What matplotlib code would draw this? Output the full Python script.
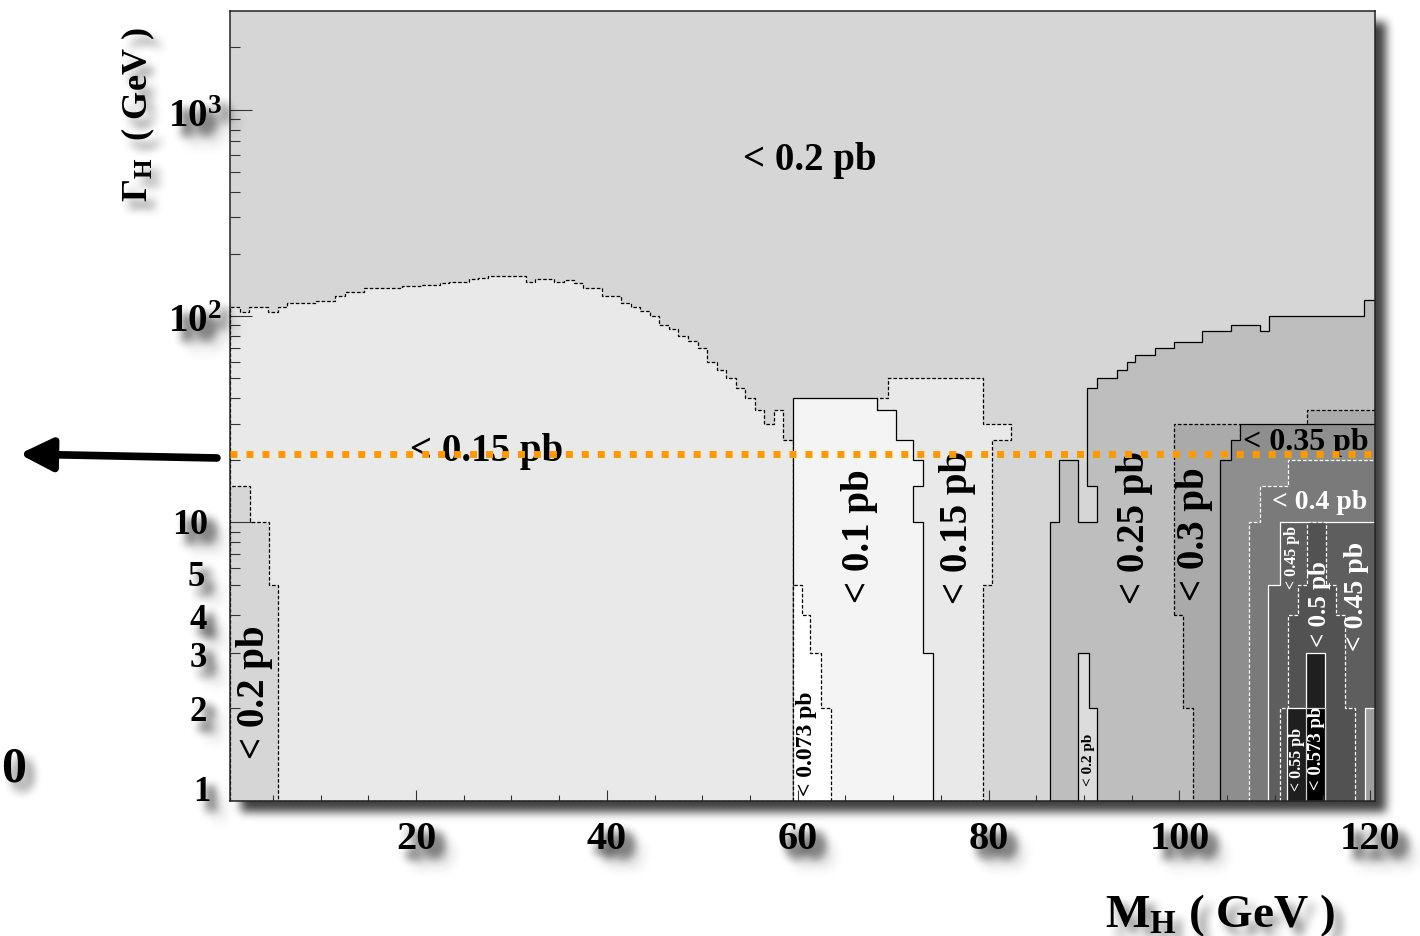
import numpy as np
import matplotlib
matplotlib.use("Agg")
import matplotlib.pyplot as plt
from matplotlib.patches import Polygon, Rectangle

plt.rcParams["font.family"] = ["Liberation Serif", "DejaVu Serif"]
plt.rcParams["font.weight"] = "bold"
plt.rcParams["mathtext.fontset"] = "custom"
plt.rcParams["mathtext.rm"] = "Liberation Serif:bold"
plt.rcParams["mathtext.it"] = "Liberation Serif:bold"
plt.rcParams["mathtext.bf"] = "Liberation Serif:bold"
plt.rcParams["lines.scale_dashes"] = False

# ------------------------------------------------------------------ data
GAMMA_MIN, GAMMA_MAX = 1.0, 3000.0      # Higgs width range (GeV)
MASS_MIN, MASS_MAX = 0.5, 120.5         # Higgs mass range (GeV)

# < 0.15 pb region: 1 GeV mass bins and the largest excluded width in each bin
bins_015 = np.arange(0.5, 60.0, 1.0)
top_015 = [110, 104, 110, 110, 104, 110, 116, 116, 116, 118, 118, 125, 131, 131,
           137, 137, 137, 137, 140, 140, 141, 141, 144, 146, 146, 151, 153, 156,
           156, 156, 156, 146, 151, 151, 146, 149, 144, 137, 137, 125, 125, 116,
           110, 106, 100, 90, 86, 80, 76, 70, 60, 55, 50, 45, 40, 35, 30, 35, 25]

# Remaining contours as rectilinear outlines: a vertical edge at x[i] runs
# from y[i] to y[i+1], then a horizontal edge at y[i+1] runs to x[i+1].
strip_02_x = [0.5, 2.6, 4.6, 5.5]
strip_02_y = [1, 15, 10, 5, 1]
mid_015_x = [68.3, 69.5, 79.4, 82.4, 80.4, 79.4]
mid_015_y = [1, 40, 50, 30, 25, 5, 1]
lim_01_x = [59.5, 68.3, 70.3, 72.1, 73.1, 72.1, 73.1, 74.2]
lim_01_y = [1, 40, 35, 25, 20, 15, 10, 3, 1]
lim_0073_x = [59.5, 60.4, 61.3, 62.4, 63.5]
lim_0073_y = [1, 5, 4, 3, 2, 1]
lim_025_x = [86.4, 87.4, 89.4, 91.4, 90.3, 91.4, 93.5, 94.5, 95.3, 97.4, 99.4,
             102.4, 105.4, 108.4, 109.4, 119.3, 120.5]
lim_025_y = [1, 10, 20, 10, 15, 45, 50, 55, 60, 65, 70, 75, 85, 90, 85, 100, 120, 1]
small_02_x = [89.4, 90.5, 91.4]
small_02_y = [1, 3, 2, 1]
lim_03_x = [99.4, 106.4, 101.45, 100.4]
lim_03_y = [4, 30, 1, 2, 4]
lim_03b_x = [113.4, 120.5]
lim_03b_y = [1, 35, 1]
lim_035_x = [104.3, 105.4, 106.35, 120.5]
lim_035_y = [1, 20, 25, 30, 1]
lim_04_x = [107.3, 108.4, 111.4, 120.5]
lim_04_y = [1, 10, 15, 20, 1]
lim_045_x = [109.25, 110.5, 120.5]
lim_045_y = [1, 5, 10, 1]
lim_05_x = [110.55, 111.4, 112.46, 113.4, 115.4, 116.4, 117.35, 118.4]
lim_05_y = [1, 2, 4, 5, 10, 5, 4, 2, 1]
lim_055_x = [111.3, 113.3, 115.3]
lim_055_y = [1, 2, 3, 1]
lim_0573_x = [113.3, 115.3]
lim_0573_y = [1, 2, 1]
edge_04_x = [119.45, 120.5]
edge_04_y = [1, 2, 1]

probe_width = 21.5                      # width marked by the dotted line (GeV)

x_tick_values = [20, 40, 60, 80, 100, 120]
y_tick_values = [1, 2, 3, 4, 5, 10, 100, 1000]
y_tick_texts = ["1", "2", "3", "4", "5", "10", r"$10^{2}$", r"$10^{3}$"]

region_labels = ["< 0.2 pb", "< 0.15 pb", "< 0.1 pb", "< 0.15 pb", "< 0.073 pb",
                 "< 0.2 pb", "< 0.2 pb", "< 0.25 pb", "< 0.3 pb", "< 0.35 pb",
                 "< 0.4 pb", "< 0.45 pb", "< 0.5 pb", "< 0.45 pb", "< 0.55 pb",
                 "< 0.573 pb"]

# ------------------------------------------------------------------ helpers
def _box(a, r, axis):
    k = 2 * r + 1
    pad = [(0, 0)] * a.ndim
    pad[axis] = (r + 1, r)
    c = np.cumsum(np.pad(a, pad), axis=axis)
    n = c.shape[axis]
    return (np.take(c, np.arange(k, n), axis=axis)
            - np.take(c, np.arange(0, n - k), axis=axis)) / k


def _blur(a, r):
    for _ in range(3):
        a = _box(a, r, 0)
        a = _box(a, r, 1)
    return a


class SoftShadow:
    """agg filter: blurred, offset drop shadow (optionally under the source)."""

    def __init__(self, dx, dy, r, alpha, keep_source=True, color=(0, 0, 0)):
        self.dx, self.dy, self.r, self.alpha = dx, dy, r, alpha
        self.keep_source = keep_source
        self.color = np.array(color, float)

    def __call__(self, im, dpi):
        pad = 3 * self.r + max(abs(self.dx), abs(self.dy)) + 2
        src = np.pad(im, ((pad, pad), (pad, pad), (0, 0)))
        sh = _blur(src[..., 3], self.r)
        sh = np.roll(sh, (self.dy, self.dx), axis=(0, 1)) * self.alpha
        out = np.zeros_like(src)
        if self.keep_source:
            a = src[..., 3]
            oa = a + sh * (1 - a)
            rgb = (src[..., :3] * a[..., None]
                   + self.color * (sh * (1 - a))[..., None])
            out[..., :3] = rgb / np.maximum(oa, 1e-6)[..., None]
            out[..., 3] = oa
        else:
            out[..., :3] = self.color
            out[..., 3] = sh
        return np.clip(out, 0, 1), -pad, -pad


def outline(xs, ys):
    pts = []
    for i, x in enumerate(xs):
        pts.append((x, ys[i]))
        pts.append((x, ys[i + 1]))
    return pts


KNEE = np.log10(5.0)
STRETCH = 1.5


def _fwd(g):
    lg = np.log10(np.maximum(np.asarray(g, float), 1e-6))
    return np.where(lg >= KNEE, lg, KNEE - STRETCH * (KNEE - lg))


def _inv(t):
    t = np.asarray(t, float)
    return 10 ** np.where(t >= KNEE, t, KNEE - (KNEE - t) / STRETCH)


# ------------------------------------------------------------------ figure
fig = plt.figure(figsize=(14.2, 9.37), dpi=100)
fig.patch.set_facecolor("white")
ax_box = [230 / 1420, 1 - 802 / 937, 1145 / 1420, 790 / 937]
ax = fig.add_axes(ax_box)

frame_shadow = Rectangle((ax_box[0], ax_box[1]), ax_box[2], ax_box[3],
                         transform=fig.transFigure, facecolor="black",
                         edgecolor="none", zorder=-1)
frame_shadow.set_agg_filter(SoftShadow(11, 11, 4, 0.75, keep_source=False))
fig.add_artist(frame_shadow)

ax.set_yscale("function", functions=(_fwd, _inv))
ax.set_xlim(MASS_MIN, MASS_MAX)
ax.set_ylim(GAMMA_MIN, GAMMA_MAX)
ax.set_facecolor("#d6d6d6")

dash = (0, (2.6, 1.4))
black_solid = dict(edgecolor="black", linestyle="-")
black_dash = dict(edgecolor="black", linestyle=dash)
white_solid = dict(edgecolor="white", linestyle="-")
white_dash = dict(edgecolor="white", linestyle=dash)

regions = [
    (bins_015, [GAMMA_MIN] + top_015 + [GAMMA_MIN], "#e9e9e9", black_dash),
    (strip_02_x, strip_02_y, "#d6d6d6", black_dash),
    (mid_015_x, mid_015_y, "#e9e9e9", black_dash),
    (lim_01_x, lim_01_y, "#f4f4f4", black_solid),
    (lim_0073_x, lim_0073_y, "#ffffff", black_dash),
    (lim_025_x, lim_025_y, "#bebebe", black_solid),
    (small_02_x, small_02_y, "#dcdcdc", black_solid),
    (lim_03_x, lim_03_y, "#aaaaaa", black_dash),
    (lim_03b_x, lim_03b_y, "#aaaaaa", black_dash),
    (lim_035_x, lim_035_y, "#8e8e8e", black_solid),
    (lim_04_x, lim_04_y, "#7a7a7a", white_dash),
    (lim_045_x, lim_045_y, "#5e5e5e", white_solid),
    (lim_05_x, lim_05_y, "#525252", white_dash),
    (lim_055_x, lim_055_y, "#1f1f1f", white_solid),
    (lim_0573_x, lim_0573_y, "#000000", dict(edgecolor="#d0d0d0", linestyle="-")),
    (edge_04_x, edge_04_y, "#9e9e9e", white_solid),
]
for xs, ys, face, edge in regions:
    ax.add_patch(Polygon(outline(xs, ys), closed=True, facecolor=face,
                         linewidth=0.9, joinstyle="miter", **edge))

# labels inside the contours: (x, width, rotation, size, colour)
label_layout = [
    (61.3, 573, 0, 28, "black"),
    (27.4, 22.3, 0, 28, "black"),
    (66.5, 8.65, 90, 28, "black"),
    (76.7, 9.56, 90, 28, "black"),
    (60.9, 1.54, 90, 17, "black"),
    (3.1, 2.26, 90, 28, "black"),
    (90.5, 1.37, 90, 11, "black"),
    (95.3, 9.56, 90, 28, "black"),
    (101.6, 8.85, 90, 28, "black"),
    (113.2, 24.6, 0, 23, "black"),
    (114.7, 12.6, 0, 20, "white"),
    (111.8, 6.85, 90, 11.5, "white"),
    (114.7, 4.35, 90, 18, "white"),
    (118.6, 4.62, 90, 20, "white"),
    (112.3, 1.37, 90, 11.5, "white"),
    (114.4, 1.49, 90, 13.5, "white"),
]
for text, (x, g, rot, size, col) in zip(region_labels, label_layout):
    ax.text(x, g, text, rotation=rot, fontsize=size, color=col,
            ha="center", va="center", zorder=3)

ax.axhline(probe_width, color="#ff9900", linewidth=5,
           linestyle=(0, (5, 6.5)), dash_capstyle="butt", zorder=4)

# ticks
ax.set_xticks(x_tick_values)
ax.set_xticks(np.arange(5, 121, 5), minor=True)
ax.set_yticks([10, 100, 1000])
ax.set_yticks([2, 3, 4, 5, 6, 7, 8, 9, 20, 30, 40, 50, 60, 70, 80, 90,
               200, 300, 400, 500, 600, 700, 800, 900, 2000], minor=True)
ax.tick_params(which="both", direction="in", labelleft=False,
               labelbottom=False, color="#333333", width=0.8,
               top=False, right=False)
ax.tick_params(axis="x", which="major", length=8)
ax.tick_params(axis="x", which="minor", length=4)
ax.tick_params(axis="y", which="major", length=16)
ax.tick_params(axis="y", which="minor", length=7.5)
for sp in ax.spines.values():
    sp.set_linewidth(1.1)
    sp.set_color("#222222")

shadow = SoftShadow(8, 9, 4, 0.5)

for v in x_tick_values:
    t = ax.annotate(f"{v}", xy=(v, 0), xycoords=("data", "axes fraction"),
                    xytext=(0, -34), textcoords="offset points",
                    ha="center", va="baseline", fontsize=29,
                    annotation_clip=False)
    t.set_agg_filter(shadow)

# y labels: offsets (points) of right edge / baseline, and sizes
y_label_offsets = [(-14, 0.7), (-16.5, -8.6), (-16.5, -9.4), (-16.5, -10),
                   (-18, 0), (-15.8, -7.9), (-5.8, -10.8), (-5.8, -12.2)]
y_label_sizes = [25, 25, 25, 25, 25, 26, 28, 28]
for v, txt, off, size in zip(y_tick_values, y_tick_texts, y_label_offsets,
                             y_label_sizes):
    t = ax.annotate(txt, xy=(0, v), xycoords=("axes fraction", "data"),
                    xytext=off, textcoords="offset points", ha="right",
                    va="baseline", fontsize=size, annotation_clip=False)
    t.set_agg_filter(shadow)

t = ax.text(-0.080, 0.870, r"$\Gamma_{H}$  ( GeV )", rotation=90,
            transform=ax.transAxes, ha="center", va="center", fontsize=26)
t.set_agg_filter(shadow)
t = ax.text(0.8646, -0.158, r"$M_{H}$ ( GeV )", transform=ax.transAxes,
            ha="center", va="baseline", fontsize=34)
t.set_agg_filter(shadow)
t = fig.text(1 / 1420, 1 - 770 / 937, "0", ha="left", va="center",
             fontsize=36)
t.set_agg_filter(shadow)

ax.annotate("", xy=(-0.184, 0.4392), xycoords="axes fraction",
            xytext=(-0.0114, 0.4342), textcoords="axes fraction",
            arrowprops=dict(arrowstyle="-|>,head_length=0.9,head_width=0.45",
                            lw=5.5, color="black", mutation_scale=22,
                            shrinkA=0, shrinkB=0),
            annotation_clip=False)

fig.savefig("out.png", dpi=100)
